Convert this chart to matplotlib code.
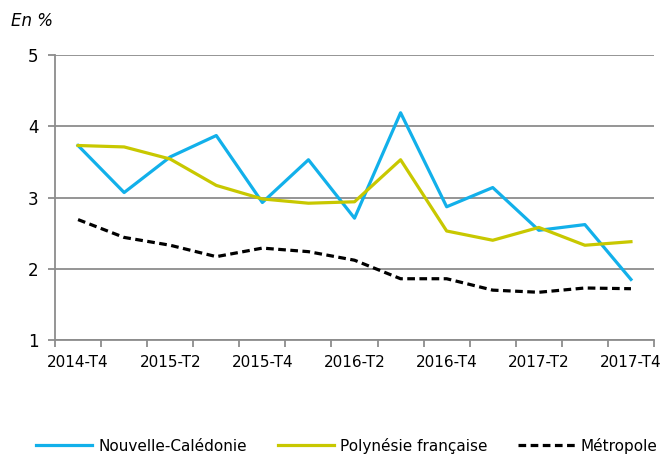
import matplotlib
matplotlib.use("Agg")
import matplotlib.pyplot as plt
from matplotlib.ticker import FixedLocator, NullFormatter

plt.rcParams['font.family'] = ['DejaVu Sans']

# quarterly values, in %
quarters = ["2014-T4", "2015-T1", "2015-T2", "2015-T3", "2015-T4", "2016-T1", "2016-T2",
            "2016-T3", "2016-T4", "2017-T1", "2017-T2", "2017-T3", "2017-T4"]
nc = [3.73, 3.07, 3.57, 3.87, 2.93, 3.53, 2.71, 4.19, 2.87, 3.14, 2.54, 2.62, 1.85]
pf = [3.73, 3.71, 3.54, 3.17, 2.98, 2.92, 2.94, 3.53, 2.53, 2.40, 2.58, 2.33, 2.38]
metro = [2.69, 2.44, 2.33, 2.17, 2.29, 2.24, 2.12, 1.86, 1.86, 1.70, 1.67, 1.73, 1.72]

x = list(range(len(quarters)))
grey = "#8c8c8c"

fig = plt.figure(figsize=(6.67, 4.57), dpi=100)
ax = fig.add_axes([0.0825, 0.256, 0.898, 0.6236])

ax.plot(x, nc, color="#12B0EA", lw=2.3, label="Nouvelle-Calédonie")
ax.plot(x, pf, color="#C8C800", lw=2.3, label="Polynésie française")
ax.plot(x, metro, color="black", lw=2.3, ls=(0, (2.4, 1.4)), label="Métropole")

ax.set_xlim(-0.5, len(quarters) - 0.5)
ax.set_ylim(1, 5)
ax.set_yticks([1, 2, 3, 4, 5])
ax.yaxis.grid(True, color=grey, lw=1.3)
ax.set_axisbelow(True)

# category axis: ticks between categories, labels every second quarter
ax.set_xticks(x[::2])
ax.set_xticklabels(quarters[::2])
ax.xaxis.set_minor_locator(FixedLocator([i - 0.5 for i in range(len(quarters) + 1)]))
ax.xaxis.set_minor_formatter(NullFormatter())
ax.tick_params(axis='x', which='major', length=0, pad=11, labelsize=11)
ax.tick_params(axis='x', which='minor', length=5, color=grey, width=1.3)
ax.tick_params(axis='y', length=5, color=grey, width=1.3, labelsize=12, pad=7)

for s in ("top", "right"):
    ax.spines[s].set_visible(False)
for s in ("left", "bottom"):
    ax.spines[s].set_color(grey)
    ax.spines[s].set_linewidth(1.3)

fig.text(0.016, 0.955, "En %", fontsize=12, style="italic", va="center")

fig.legend(loc="center", bbox_to_anchor=(0.52, 0.025), ncol=3, frameon=False,
           fontsize=11, handlelength=3.7, columnspacing=2.0, handletextpad=0.4)

fig.savefig("out.png", dpi=100)
